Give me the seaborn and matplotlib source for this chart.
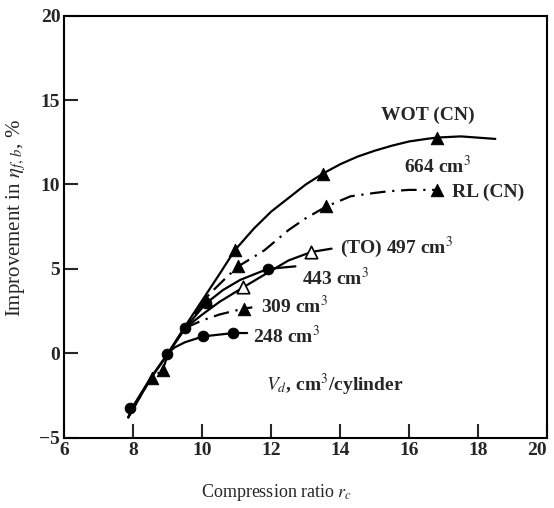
import matplotlib
matplotlib.use('Agg')
import matplotlib.pyplot as plt
import seaborn as sns

# curve shapes (compression ratio, improvement %)
wot_x = [7.85, 8.0, 8.5, 9.0, 9.5, 10.0, 10.5, 10.94, 11.5, 12.0, 12.5, 13.0, 13.5, 14.0, 14.5, 15.0, 15.5, 16.0, 16.5, 16.8, 17.5, 18.5]
wot_y = [-3.8, -3.1, -1.45, 0.0, 1.6, 3.15, 4.7, 6.1, 7.4, 8.4, 9.2, 10.0, 10.65, 11.2, 11.65, 12.0, 12.3, 12.55, 12.7, 12.78, 12.85, 12.7]

rl_x = [7.85, 8.5, 8.85, 9.0, 9.5, 10.2, 10.6, 11.04, 11.8, 12.5, 13.0, 13.6, 14.3, 15.0, 15.4, 16.0, 16.8]
rl_y = [-3.8, -1.5, -1.0, -0.05, 1.5, 3.5, 4.3, 5.15, 6.1, 7.3, 8.0, 8.7, 9.3, 9.5, 9.6, 9.68, 9.68]

to497_x = [9.5, 10.0, 10.5, 11.18, 12.0, 12.5, 13.16, 13.75]
to497_y = [1.5, 2.3, 3.05, 3.9, 4.9, 5.5, 6.0, 6.2]

cc443_x = [7.85, 8.5, 9.0, 9.5, 10.1, 10.6, 11.1, 11.9, 12.7]
cc443_y = [-3.8, -1.5, -0.05, 1.5, 2.95, 3.75, 4.35, 5.0, 5.15]

cc309_x = [9.5, 10.0, 10.5, 11.2, 11.45]
cc309_y = [1.5, 1.95, 2.3, 2.65, 2.72]

cc248_x = [8.96, 9.2, 9.49, 10.02, 10.9, 11.3]
cc248_y = [-0.05, 0.35, 0.65, 1.0, 1.2, 1.2]

# measured points (markers)
wot_px = [8.53, 10.12, 10.94, 13.5, 16.8]
wot_py = [-1.45, 3.15, 6.1, 10.65, 12.78]
rl_px = [8.85, 11.04, 13.6, 16.8]
rl_py = [-1.0, 5.15, 8.7, 9.68]
to497_px = [11.18, 13.16]
to497_py = [3.9, 6.0]
cc443_px = [7.9, 8.96, 9.49, 10.1, 11.9]
cc443_py = [-3.24, -0.05, 1.5, 2.95, 5.0]
cc309_px = [11.2]
cc309_py = [2.65]
cc248_px = [10.02, 10.9]
cc248_py = [1.0, 1.2]

sns.set_style('ticks')
plt.rcParams['font.family'] = ['Liberation Serif', 'DejaVu Serif']
plt.rcParams['mathtext.fontset'] = 'stix'

fig, ax = plt.subplots(figsize=(5.54, 5.08), dpi=100)
fig.subplots_adjust(left=0.1164, right=0.9874, bottom=0.1384, top=0.9691)

solid = '-'
dashdot = (0, (7, 3, 1, 3))
lw = 1.6

sns.lineplot(x=wot_x, y=wot_y, ax=ax, color='black', lw=lw, linestyle=solid, sort=False, estimator=None)
sns.lineplot(x=rl_x, y=rl_y, ax=ax, color='black', lw=lw, linestyle=dashdot, sort=False, estimator=None)
sns.lineplot(x=to497_x, y=to497_y, ax=ax, color='black', lw=lw, linestyle=solid, sort=False, estimator=None)
sns.lineplot(x=cc443_x, y=cc443_y, ax=ax, color='black', lw=lw, linestyle=solid, sort=False, estimator=None)
sns.lineplot(x=cc309_x, y=cc309_y, ax=ax, color='black', lw=lw, linestyle=dashdot, sort=False, estimator=None)
sns.lineplot(x=cc248_x, y=cc248_y, ax=ax, color='black', lw=lw, linestyle=solid, sort=False, estimator=None)

sns.scatterplot(x=wot_px, y=wot_py, ax=ax, marker='^', s=80, color='black', edgecolor='black', zorder=3)
sns.scatterplot(x=rl_px, y=rl_py, ax=ax, marker='^', s=80, color='black', edgecolor='black', zorder=3)
sns.scatterplot(x=cc309_px, y=cc309_py, ax=ax, marker='^', s=80, color='black', edgecolor='black', zorder=3)
sns.scatterplot(x=to497_px, y=to497_py, ax=ax, marker='^', s=80, color='white', edgecolor='black', linewidth=1.2, zorder=3)
sns.scatterplot(x=cc443_px, y=cc443_py, ax=ax, marker='o', s=60, color='black', edgecolor='black', zorder=3)
sns.scatterplot(x=cc248_px, y=cc248_py, ax=ax, marker='o', s=60, color='black', edgecolor='black', zorder=3)

# labels on the curves
tk = dict(fontsize=14, fontweight='bold', va='center', ha='left')
ax.text(15.18, 14.1, 'WOT (CN)', **tk)
ax.text(15.85, 11.1, '664 cm$^{3}$', **tk)
ax.text(17.25, 9.55, 'RL (CN)', **tk)
ax.text(14.0, 6.25, '(TO) 497 cm$^{3}$', **tk)
ax.text(12.9, 4.45, '443 cm$^{3}$', **tk)
ax.text(11.7, 2.8, '309 cm$^{3}$', **tk)
ax.text(11.48, 1.05, '248 cm$^{3}$', **tk)
ax.text(11.86, -1.88, '$V_{d}$, cm$^{3}$/cylinder', **tk)

ax.set_xlim(6, 20)
ax.set_ylim(-5, 20)
ax.set_xticks([6, 8, 10, 12, 14, 16, 18, 20])
ax.set_yticks([-5, 0, 5, 10, 15, 20])
ax.set_yticklabels(['\u22125', '0', '5', '10', '15', '20'])
ax.tick_params(direction='in', length=10, width=1.5, labelsize=14, pad=3)
for lab in ax.get_xticklabels() + ax.get_yticklabels():
    lab.set_fontweight('bold')
# last x label sits at the figure edge, keep it inside
ax.get_xticklabels()[-1].set_horizontalalignment('right')
for sp in ax.spines.values():
    sp.set_visible(True)
    sp.set_linewidth(1.5)
    sp.set_color('black')

ax.set_xlabel('Compression ratio $r_c$', fontsize=13)
ax.set_ylabel('Improvement in $\\eta_{f,\\,b}$, %', fontsize=15)
ax.xaxis.set_label_coords(0.44, -0.105)
ax.yaxis.set_label_coords(-0.075, 0.52)

fig.savefig('out.png', dpi=100)
